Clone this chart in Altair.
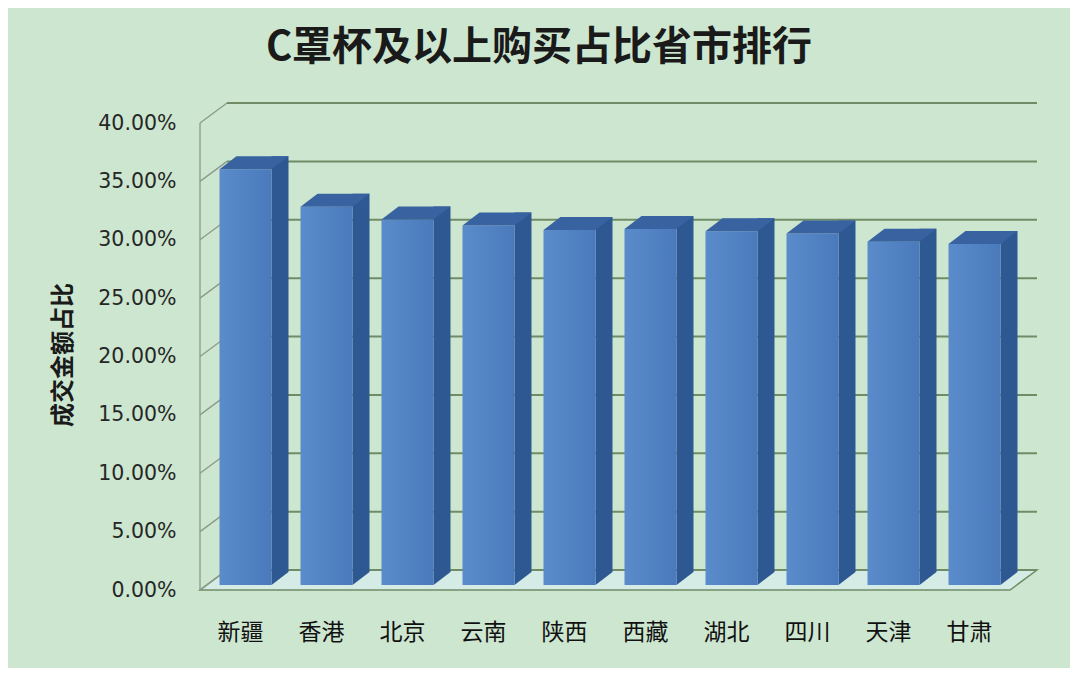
import altair as alt
import pandas as pd

provinces = ["新疆", "香港", "北京", "云南", "陕西", "西藏", "湖北", "四川", "天津", "甘肃"]
shares = [0.356, 0.324, 0.313, 0.308, 0.304, 0.305, 0.303, 0.301, 0.294, 0.292]
tick_values = [0.0, 0.05, 0.10, 0.15, 0.20, 0.25, 0.30, 0.35, 0.40]

title_text = "C罩杯及以上购买占比省市排行"
y_title = "成交金额占比"

bars = pd.DataFrame({"province": provinces, "share": shares, "zero": [0.0] * len(provinces)})
ticks = pd.DataFrame({"t": tick_values})

W, H = 810, 467
BG = "#cde6d0"
FLOOR = "#d4ebe6"
GRID = "#6f8c66"
WALL = "#8a9a8a"
FRONT = alt.Gradient(
    gradient="linear",
    stops=[alt.GradientStop(color="#5a8bcb", offset=0), alt.GradientStop(color="#4a7abb", offset=1)],
    x1=0, x2=1, y1=0, y2=0,
)
SIDE = "#2d5891"
TOP = "#3863a0"

yscale = alt.Scale(domain=[0, 0.4], nice=False, zero=True)
xscale = alt.Scale(type="band", domain=provinces, paddingInner=0, paddingOuter=0)

y_axis = alt.Axis(
    values=tick_values, format=".2%", domain=False, ticks=False, grid=False,
    labelFont="DejaVu Sans", labelFontSize=20.5, labelColor="#262626", labelPadding=24,
    title=y_title, titleFont="Noto Sans CJK SC", titleFontSize=24, titleFontWeight="bold",
    titleColor="#1a1a1a", titleAngle=-90, titleX=-137, titleY=H / 2 - 2,
    titleAlign="center", titleBaseline="middle",
)
x_axis = alt.Axis(
    domain=False, ticks=False, labelAngle=0, labelFont="Noto Sans CJK SC",
    labelFontSize=23, labelColor="#111111", labelPadding=31, title=None,
)

X = alt.X("province:N", scale=xscale, axis=x_axis, sort=None)

base = alt.Chart(bars)

floor = alt.Chart(pd.DataFrame({"z": [0.0]})).mark_point(
    shape="M0,0 L810,0 L837,-20 L27,-20 Z", size=4, filled=True,
    fill=FLOOR, fillOpacity=1, stroke=GRID, strokeWidth=1.5, opacity=1,
).encode(x=alt.value(0), y=alt.Y("z:Q", scale=yscale, axis=y_axis))

back_grid = alt.Chart(ticks).mark_rule(color=GRID, strokeWidth=2, yOffset=-20).encode(
    x=alt.value(27), x2=alt.value(837), y=alt.Y("t:Q", scale=yscale, axis=y_axis)
)

left_wall = alt.Chart(ticks).mark_rule(color=WALL, strokeWidth=1.3, y2Offset=-20).encode(
    x=alt.value(0), x2=alt.value(27),
    y=alt.Y("t:Q", scale=yscale, axis=y_axis), y2="t:Q",
)

left_edge = alt.Chart(pd.DataFrame({"a": [0.0], "b": [0.4]})).mark_rule(
    color=WALL, strokeWidth=1.3
).encode(x=alt.value(0), y=alt.Y("a:Q", scale=yscale, axis=y_axis), y2="b:Q")

side = base.mark_bar(color=SIDE, size=17, xOffset=39.5, yOffset=-18, y2Offset=-18).encode(
    x=X, y=alt.Y("share:Q", scale=yscale, axis=y_axis), y2="zero:Q"
)

side_bottom = base.mark_point(
    shape="M31,-18 L31,-5 L48,-18 Z", size=4, filled=True, fill=SIDE, strokeWidth=0, opacity=1
).encode(x=X, y=alt.Y("zero:Q", scale=yscale, axis=y_axis))

front = base.mark_bar(color=FRONT, size=52, xOffset=5, yOffset=-5, y2Offset=-5).encode(
    x=X, y=alt.Y("share:Q", scale=yscale, axis=y_axis), y2="zero:Q"
)

top = base.mark_point(
    shape="M-21,-5 L31,-5 L48,-18 L-4,-18 Z", size=4, filled=True, fill=TOP, strokeWidth=0, opacity=1
).encode(x=X, y=alt.Y("share:Q", scale=yscale, axis=y_axis))

chart = alt.layer(floor, back_grid, left_wall, left_edge, side, side_bottom, front, top).properties(
    width=W, height=H,
    padding={"left": 192, "top": 115, "right": 60, "bottom": 78},
    autosize=alt.AutoSizeParams(type="none"),
    background=BG,
    title=alt.Title(
        title_text, font="Noto Sans CJK SC", fontSize=40, fontWeight="bold", color="#1a1a1a",
        anchor="middle", frame="group", dx=-66, offset=34,
    ),
).configure_view(stroke=None)

chart.save("out.html", embed_options={"renderer": "svg", "actions": False})
